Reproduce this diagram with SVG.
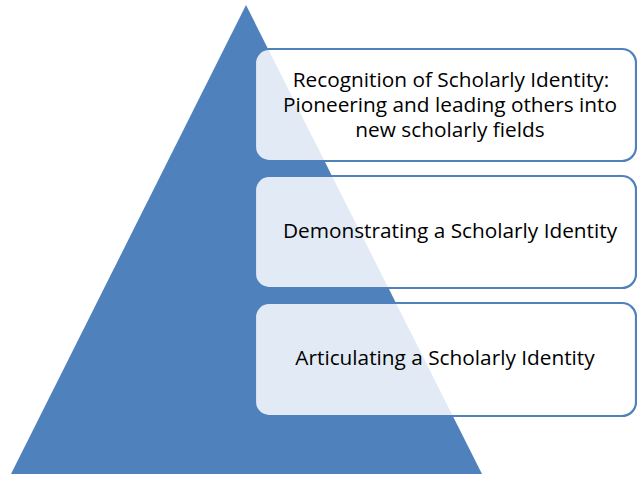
<svg xmlns="http://www.w3.org/2000/svg" width="637" height="478" viewBox="0 0 637 478">
<style>
.box{fill:#ffffff;fill-opacity:0.84;stroke:#4f81bd;stroke-width:2.2}
.t{font-family:"Open Sans","Liberation Sans",Arial,sans-serif;font-size:20.8px;fill:#000;text-anchor:middle}
</style>
<rect width="637" height="478" fill="#ffffff"/>
<g id="pyramid">
<polygon points="246,5 482,474 11,474" fill="#4f81bd"/>
</g>
<g id="level3">
<rect class="box" x="255" y="49" width="381" height="112" rx="14"/>
<text class="t" x="451" y="87">Recognition of Scholarly Identity:</text>
<text class="t" x="450" y="112">Pioneering and leading others into</text>
<text class="t" x="450" y="137">new scholarly fields</text>
</g>
<g id="level2">
<rect class="box" x="255" y="176" width="381" height="112" rx="14"/>
<text class="t" x="450" y="238">Demonstrating a Scholarly Identity</text>
</g>
<g id="level1">
<rect class="box" x="255" y="303" width="381" height="113" rx="14"/>
<text class="t" x="445" y="365">Articulating a Scholarly Identity</text>
</g>
<g id="connectors"></g>
</svg>
